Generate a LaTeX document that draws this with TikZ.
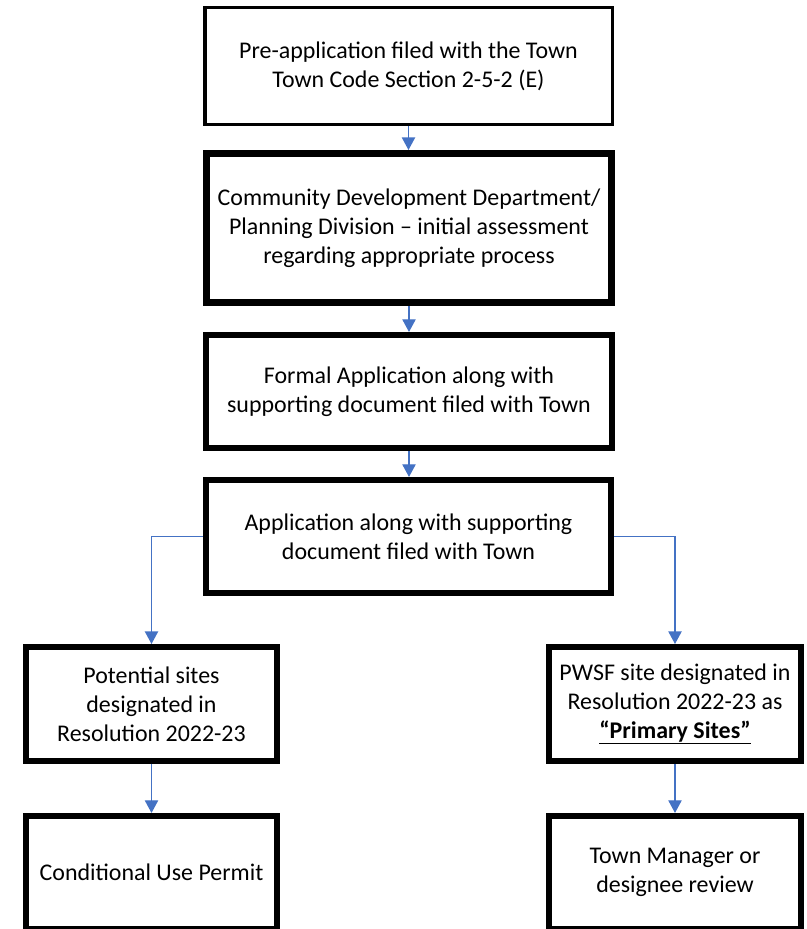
\documentclass[tikz,border=0pt]{standalone}
\usepackage{fontspec}
\setmainfont{Carlito}
\usetikzlibrary{arrows.meta}
\definecolor{arrowblue}{HTML}{4472C4}
\begin{document}
\begin{tikzpicture}[x=0.75pt,y=-0.75pt,
  box/.style={draw=black, line width=4.3pt, align=center, inner sep=0pt,
    font=\fontsize{17.95}{21.75}\selectfont, text=black},
  conn/.style={draw=arrowblue, line width=1pt, -{Triangle[length=9.5pt,width=10pt]}}]
\useasboundingbox (0,0) rectangle (807,929);
\node[box, line width=2.6pt, minimum width=305.6pt, minimum height=87.4pt] (b1) at (408.5,66)
  {Pre-application filed with the Town\\Town Code Section 2-5-2 (E)};
\node[box, line width=5pt, minimum width=304pt, minimum height=112pt] (b2) at (409,228)
  {Community Development Department/\\Planning Division – initial assessment\\regarding appropriate process};
\node[box, minimum width=304.7pt, minimum height=85pt] (b3) at (409,391.5)
  {Formal Application along with\\supporting document filed with Town};
\node[box, minimum width=304pt, minimum height=85pt] (b4) at (408.5,536.5)
  {Application along with supporting\\document filed with Town};
\node[box, minimum width=188.5pt, minimum height=85.7pt] (b5) at (151.5,704)
  {Potential sites\\designated in\\Resolution 2022-23};
\node[box, minimum width=189.2pt, minimum height=85.7pt] (b6) at (675,704)
  {PWSF site designated in\\Resolution 2022-23 as\\\underline{\textbf{“Primary Sites”}}};
\node[box, minimum width=188.5pt, minimum height=85pt] (b7) at (151.5,872.5)
  {Conditional Use Permit};
\node[box, minimum width=189.2pt, minimum height=85pt] (b8) at (675,872.5)
  {Town Manager or\\designee review};
\draw[conn] (b1.south) -- (b1.south |- b2.north);
\draw[conn] (b2.south) -- (b2.south |- b3.north);
\draw[conn] (b3.south) -- (b3.south |- b4.north);
\draw[conn] (b4.west) -| (b5.north);
\draw[conn] (b4.east) -| (b6.north);
\draw[conn] (b5.south) -- (b7.north);
\draw[conn] (b6.south) -- (b8.north);
\end{tikzpicture}
\end{document}
